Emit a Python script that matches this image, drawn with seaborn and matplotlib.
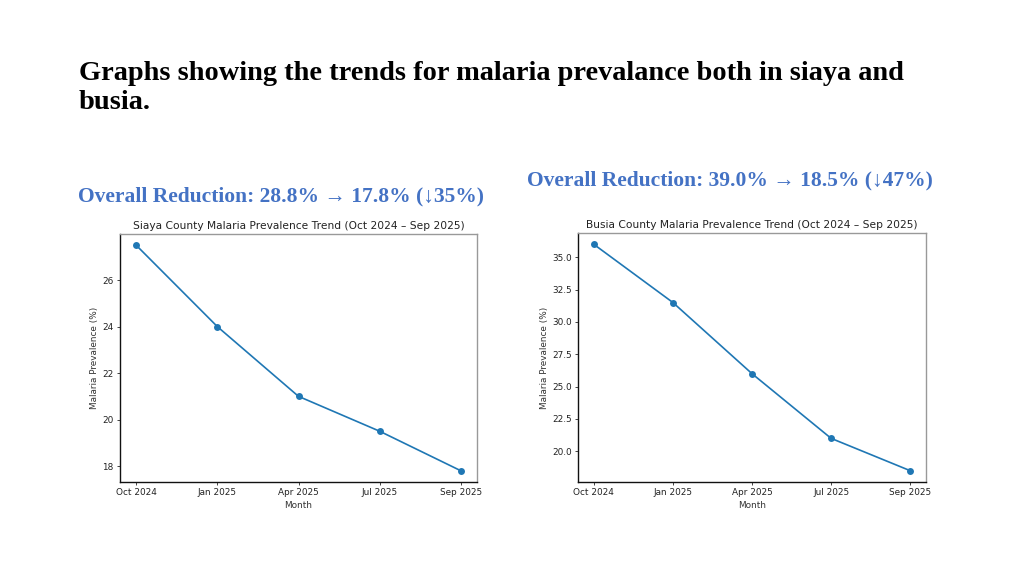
import matplotlib
matplotlib.use("Agg")
import matplotlib.pyplot as plt
import seaborn as sns
import pandas as pd

months = ["Oct 2024", "Jan 2025", "Apr 2025", "Jul 2025", "Sep 2025"]
siaya_prev = [27.5, 24.0, 21.0, 19.5, 17.8]
busia_prev = [36.0, 31.5, 26.0, 21.0, 18.5]

main_title_lines = ["Graphs showing the trends for malaria prevalance both in siaya and",
                    "busia."]
siaya_summary = "Overall Reduction: 28.8% \u2192 17.8% (\u219335%)"
busia_summary = "Overall Reduction: 39.0% \u2192 18.5% (\u219347%)"
siaya_title = "Siaya County Malaria Prevalence Trend (Oct 2024 \u2013 Sep 2025)"
busia_title = "Busia County Malaria Prevalence Trend (Oct 2024 \u2013 Sep 2025)"
x_label = "Month"
y_label = "Malaria Prevalence (%)"

S = 0.64  # scale of pasted matplotlib figures

fig = plt.figure(figsize=(10.24, 5.76), dpi=100)
fig.patch.set_facecolor("white")

serif = ["Liberation Serif", "DejaVu Serif"]
for line, base in zip(main_title_lines, [80, 109]):
    fig.text(79 / 1024, 1 - base / 576, line, family=serif, fontweight="bold",
             fontsize=20.4, va="baseline", ha="left", color="black")
fig.text(78 / 1024, 1 - 201 / 576, siaya_summary, family=serif, fontweight="bold",
         fontsize=15.5, va="baseline", ha="left", color="#4472C4")
fig.text(527 / 1024, 1 - 185 / 576, busia_summary, family=serif, fontweight="bold",
         fontsize=15.5, va="baseline", ha="left", color="#4472C4")

ax1 = fig.add_axes([120 / 1024, 94 / 576, 357 / 1024, 248 / 576])
ax2 = fig.add_axes([578 / 1024, 94 / 576, 348 / 1024, 249 / 576])

for ax, vals, title in [(ax1, siaya_prev, siaya_title), (ax2, busia_prev, busia_title)]:
    df = pd.DataFrame({"Month": months, "Prev": vals})
    sns.lineplot(data=df, x="Month", y="Prev", sort=False, marker="o", ax=ax,
                 color="#1f77b4", linewidth=1.2, markersize=5,
                 markeredgewidth=0)
    ax.set_title(title, fontsize=12 * S, pad=6 * S, color="#222222", family="DejaVu Sans")
    ax.set_xlabel(x_label, fontsize=10 * S, labelpad=4 * S, color="#333333")
    ax.set_ylabel(y_label, fontsize=10 * S, labelpad=4 * S, color="#333333")
    ax.tick_params(labelsize=10 * S, length=3.5 * S, width=0.8 * S, pad=3.5 * S,
                   labelcolor="#222222")
    ax.margins(x=0.05, y=0.05)
    for side in ["left", "bottom"]:
        ax.spines[side].set_color("#111111")
        ax.spines[side].set_linewidth(1.0)
    for side in ["top", "right"]:
        ax.spines[side].set_color("#999999")
        ax.spines[side].set_linewidth(1.0)
    ax.grid(False)
    ax.set_facecolor("white")

fig.savefig("out.png", dpi=100, facecolor="white")
